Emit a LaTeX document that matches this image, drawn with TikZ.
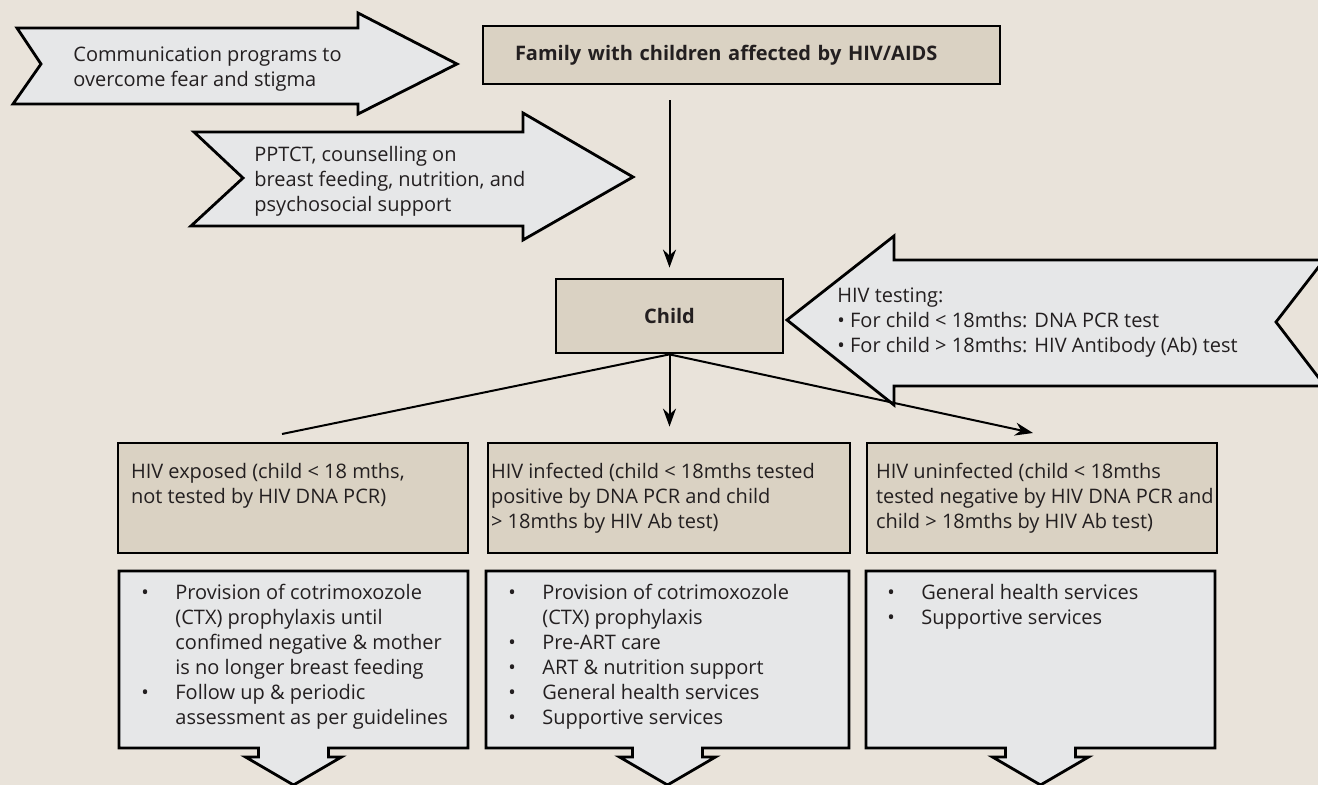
\documentclass[tikz,border=0pt]{standalone}
\usepackage{fontspec}
\setmainfont{Open Sans}
\usetikzlibrary{arrows.meta, calc, positioning}
\definecolor{pagebeige}{HTML}{E9E3DA}
\definecolor{boxtan}{HTML}{DAD2C3}
\definecolor{arrowgrey}{HTML}{E6E7E8}
\definecolor{inkgrey}{HTML}{231F20}
\newcommand{\stacklines}[1]{\begin{tabular}[t]{@{}l@{}}#1\end{tabular}}
\newcommand{\bulletlines}[1]{\begin{tabular}[t]{@{}p{17pt}@{}l@{}}#1\end{tabular}}

\begin{document}
\begin{tikzpicture}[x=0.5pt, y=-0.5pt, >={Stealth[length=9pt, width=6.5pt]}, font=\fontsize{10}{12.5}\selectfont, text=inkgrey,
  tanbox/.style={draw, line width=1.4pt, fill=boxtan, inner sep=0pt},
  fatarrow/.style={draw, line width=1.4pt, fill=arrowgrey, line join=miter},
  boldtxt/.style={font=\fontsize{10}{12.5}\selectfont\bfseries},
  link/.style={line width=1pt},
  txt/.style={anchor=base west, inner sep=0pt}]
  \fill[pagebeige] (0,0) rectangle (1318,785);
  \useasboundingbox (0,0) rectangle (1318,785);

  \draw[fatarrow] (17,28) -- (358,28) -- (358,13) -- (457,64) -- (358,114) -- (358,104) -- (13,104) -- (41,64) -- cycle;
  \node[txt] (commtxt) at (73,62) {\stacklines{Communication programs to\\overcome fear and stigma}};

  \draw[fatarrow] (194,132) -- (523,132) -- (523,113) -- (633,177) -- (523,240) -- (523,226) -- (191,226) -- (243,178) -- cycle;
  \node[txt] (pptcttxt) at (254,162) {\stacklines{PPTCT, counselling on\\breast feeding, nutrition, and\\psychosocial support}};

  \draw[fatarrow] (787,320) -- (894,236) -- (894,260) -- (1324,260) -- (1276,322) -- (1325,386) -- (894,386) -- (894,405) -- cycle;
  \node[txt] (testtxt) at (837,303) {\stacklines{HIV testing:\\\textbullet\ For child < 18mths: DNA PCR test\\\textbullet\ For child > 18mths: HIV Antibody (Ab) test}};

  \node[tanbox, boldtxt, text width=226.5pt, inner xsep=16pt, align=left, minimum height=29pt] (family) at (741.5,55) {Family with children affected by HIV/AIDS};
  \node[tanbox, boldtxt, minimum width=113.5pt, minimum height=37pt] (child) at (669.5,316) {Child};

  \node[tanbox, minimum width=175pt, minimum height=55pt] (exposed) at (293,498) {};
  \node[tanbox, minimum width=181pt, minimum height=55pt] (infected) at (669,498) {};
  \node[tanbox, minimum width=175pt, minimum height=55pt] (uninfected) at (1042,498) {};
  \node[txt] (exposedtxt) at ($(exposed.north west)+(14,37)$) {\stacklines{HIV exposed (child < 18 mths,\\not tested by HIV DNA PCR)}};
  \node[txt] (infectedtxt) at ($(infected.north west)+(4,37)$) {\stacklines{HIV infected (child < 18mths tested\\positive by DNA PCR and child\\> 18mths by HIV Ab test)}};
  \node[txt] (uninfectedtxt) at ($(uninfected.north west)+(10,37)$) {\stacklines{HIV uninfected (child < 18mths\\tested negative by HIV DNA PCR and\\child > 18mths by HIV Ab test)}};

  \coordinate (exposedin) at (282,434);
  \coordinate (uninfectedin) at (1033,433);
  \draw[link, ->, shorten <=7.5pt, shorten >=5pt] (child.north |- family.south) -- (child.north);
  \draw[link] (child.south) -- (exposedin);
  \draw[link, ->, shorten >=7.5pt] (child.south) -- (child.south |- infected.north);
  \draw[link, ->] (child.south) -- (uninfectedin);

  \foreach \l/\r in {119/468, 486/849, 866/1215} {
    \pgfmathsetmacro{\c}{(\l+\r)/2}
    \draw[fatarrow] (\l,571) -- (\r,571) -- (\r,748) -- (\c+35,748) -- (\c+35,757) -- (\c+48,757) -- (\c,785) -- (\c-48,757) -- (\c-35,757) -- (\c-35,748) -- (\l,748) -- cycle;
  }
  \node[txt] (exposedcare) at (141,600) {\bulletlines{\textbullet & Provision of cotrimoxozole\\ & (CTX) prophylaxis until\\ & confimed negative \& mother\\ & is no longer breast feeding\\\textbullet & Follow up \& periodic\\ & assessment as per guidelines}};
  \node[txt] (infectedcare) at (508,600) {\bulletlines{\textbullet & Provision of cotrimoxozole\\ & (CTX) prophylaxis\\\textbullet & Pre-ART care\\\textbullet & ART \& nutrition support\\\textbullet & General health services\\\textbullet & Supportive services}};
  \node[txt] (uninfectedcare) at (887,600) {\bulletlines{\textbullet & General health services\\\textbullet & Supportive services}};
\end{tikzpicture}
\end{document}
